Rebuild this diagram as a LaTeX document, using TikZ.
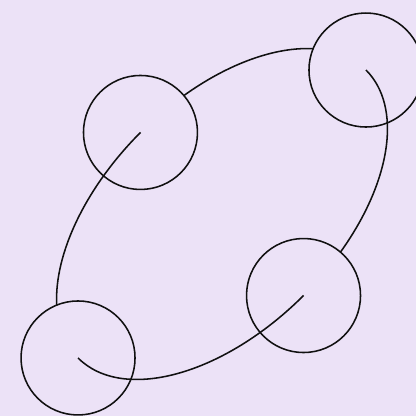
\documentclass[tikz,border=0pt]{standalone}
\usetikzlibrary{backgrounds}
\definecolor{cBack}{HTML}{ECE2F7}
\definecolor{cInk}{HTML}{111111}
\tikzset{
  ring/.style={
    draw=cInk, circle, line width=1.1pt,
    minimum size=2.85cm, inner sep=0pt,
  },
  strand/.style={
    draw=cInk, line width=1.1pt,
  },
}

\begin{document}
\begin{tikzpicture}

% ═══════════════════════════════════════════════════════════════
%  FRAME
% ═══════════════════════════════════════════════════════════════
\path[fill=cBack] (0,0) rectangle (10.4,10.4);
\useasboundingbox (0,0) rectangle (10.4,10.4);

% ═══════════════════════════════════════════════════════════════
%  RINGS ON THE TILTED LOOP
% ═══════════════════════════════════════════════════════════════
\begin{scope}[shift={(5.55,5.05)}, rotate=45]
  \node[ring] (ringB) at (5.09,0) {};
  \node[ring] (ringA) at (0,2.8825) {};
  \node[ring] (ringD) at (-5.09,0) {};
  \node[ring] (ringC) at (0,-2.8825) {};

  % ── where the loop leaves a ring ──
  \coordinate (bOut) at (27.1:5.09 and 2.8825);
  \coordinate (cOut) at (286.2:5.09 and 2.8825);

  % ── loop pieces ──
  \draw[strand] (ringA.center)
    arc[start angle=90, end angle=152.9, x radius=5.09, y radius=2.8825];
  \draw[strand] (ringD.center)
    arc[start angle=180, end angle=270, x radius=5.09, y radius=2.8825];
  \draw[strand] (cOut)
    arc[start angle=286.2, end angle=360, x radius=5.09, y radius=2.8825];
  \draw[strand] (bOut)
    arc[start angle=27.1, end angle=73.8, x radius=5.09, y radius=2.8825];
\end{scope}

\end{tikzpicture}
\end{document}
